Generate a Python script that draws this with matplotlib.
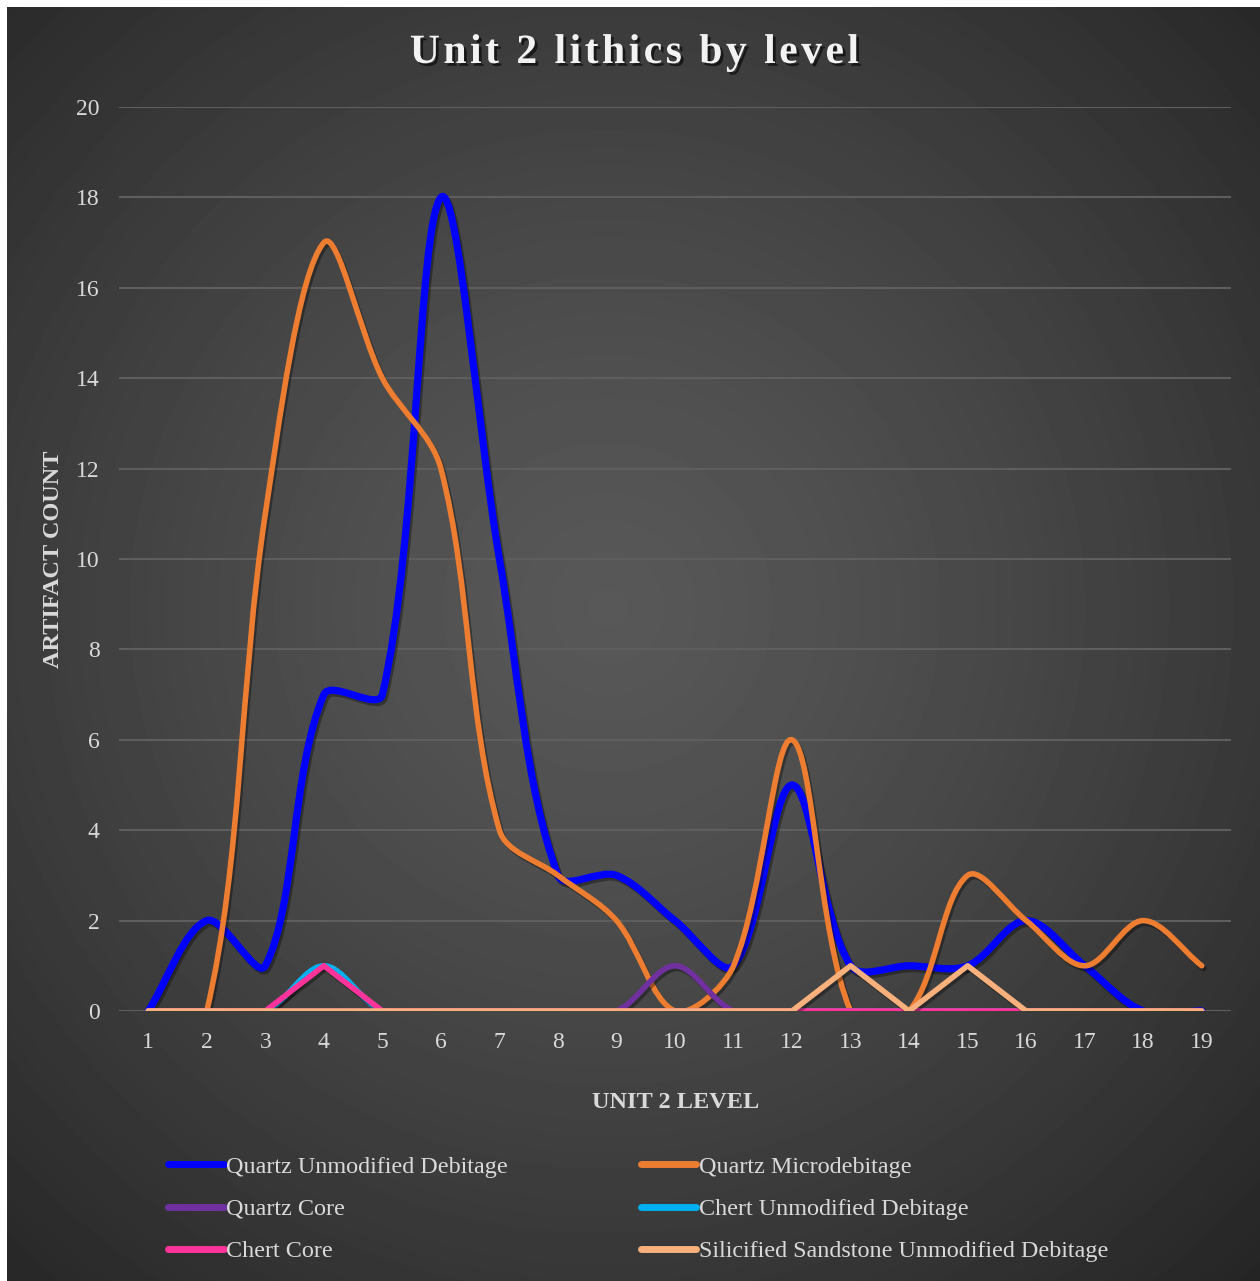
import numpy as np
import matplotlib
matplotlib.use("Agg")
import matplotlib.pyplot as plt
from matplotlib.path import Path
from matplotlib.patches import PathPatch
from matplotlib.lines import Line2D
import matplotlib.patheffects as pe

plt.rcParams['font.family'] = ['Liberation Serif', 'DejaVu Serif']

levels = [1, 2, 3, 4, 5, 6, 7, 8, 9, 10, 11, 12, 13, 14, 15, 16, 17, 18, 19]
quartz_debitage = [0, 2, 1, 7, 7, 18, 10, 3, 3, 2, 1, 5, 1, 1, 1, 2, 1, 0, 0]
quartz_micro = [0, 0, 11, 17, 14, 12, 4, 3, 2, 0, 1, 6, 0, 0, 3, 2, 1, 2, 1]
quartz_core = [0, 0, 0, 0, 0, 0, 0, 0, 0, 1, 0, 0, 0, 0, 0, 0, 0, 0, 0]
chert_debitage = [0, 0, 0, 1, 0, 0, 0, 0, 0, 0, 0, 0, 0, 0, 0, 0, 0, 0, 0]
chert_core = [0, 0, 0, 1, 0, 0, 0, 0, 0, 0, 0, 0, 0, 0, 0, 0, 0, 0, 0]
sandstone = [0, 0, 0, 0, 0, 0, 0, 0, 0, 0, 0, 0, 1, 0, 1, 0, 0, 0, 0]

series = [
    ("Quartz Unmodified Debitage", quartz_debitage, "#0000FF", 5.2, True),
    ("Quartz Microdebitage", quartz_micro, "#ED7D31", 4.0, True),
    ("Quartz Core", quartz_core, "#7030A0", 4.0, True),
    ("Chert Unmodified Debitage", chert_debitage, "#00B0F0", 4.0, True),
    ("Chert Core", chert_core, "#FF3399", 4.0, False),
    ("Silicified Sandstone Unmodified Debitage", sandstone, "#F8B07C", 4.0, False),
]

W, H = 1260, 1281
fig = plt.figure(figsize=(W / 100, H / 100), dpi=100)
fig.patch.set_facecolor("white")

# radial gradient background
bg = fig.add_axes([7 / W, 0, (W - 7) / W, (H - 7) / H], zorder=-10)
yy, xx = np.mgrid[0:1274, 0:1253]
r = np.sqrt((xx - 600) ** 2 + (yy - 600) ** 2)
v = 0x58 - (0x58 - 0x24) * np.clip(r / 950, 0, 1) ** 1.3
bg.imshow(v, cmap="gray", vmin=0, vmax=255, aspect="auto", interpolation="bilinear")
bg.axis("off")

ax = fig.add_axes([119 / W, (H - 1011) / H, 1112 / W, 904 / H])
ax.set_facecolor("none")
ax.set_xlim(0.5, 19.5)
ax.set_ylim(0, 20)

sx = 1112 / 19.0
sy = 904 / 20.0


def smooth_path(x, y):
    pts = np.column_stack([np.array(x, float) * sx, np.array(y, float) * sy])
    n = len(pts)
    verts = [pts[0]]
    codes = [Path.MOVETO]
    for i in range(n - 1):
        p0 = pts[i - 1] if i > 0 else pts[i]
        p1 = pts[i]
        p2 = pts[i + 1]
        p3 = pts[i + 2] if i + 2 < n else pts[i + 1]
        d01 = np.hypot(*(p1 - p0))
        d12 = np.hypot(*(p2 - p1))
        d23 = np.hypot(*(p3 - p2))
        c1 = p1 + (p2 - p0) * (d12 / (d01 + d12)) / 3 if d01 + d12 > 0 else p1
        c2 = p2 - (p3 - p1) * (d12 / (d12 + d23)) / 3 if d12 + d23 > 0 else p2
        verts += [c1, c2, p2]
        codes += [Path.CURVE4] * 3
    verts = np.array(verts) / [sx, sy]
    return Path(verts, codes)


shadow = [pe.SimpleLineShadow(offset=(1.5, -2), shadow_color="black", alpha=0.35), pe.Normal()]

ax.grid(axis="y", color="#5e5e5e", linewidth=1.5, zorder=0)
ax.set_axisbelow(True)

handles = []
for i, (name, vals, color, lw, smooth) in enumerate(series):
    if smooth:
        patch = PathPatch(smooth_path(levels, vals), fill=False, edgecolor=color, linewidth=lw,
                          capstyle="round", joinstyle="round", zorder=3 + i, path_effects=shadow)
        ax.add_patch(patch)
    else:
        ax.plot(levels, vals, color=color, linewidth=lw, solid_capstyle="round",
                solid_joinstyle="round", zorder=3 + i, path_effects=shadow)
    handles.append(Line2D([0], [0], color=color, linewidth=5, solid_capstyle="round"))

ax.set_xticks(levels)
ax.set_yticks(range(0, 21, 2))
ax.tick_params(axis="both", length=0, labelsize=17, labelcolor="#d9d9d9")
ax.tick_params(axis="x", pad=15)
ax.tick_params(axis="y", pad=14)
for s in ax.spines.values():
    s.set_visible(False)

ax.set_ylabel("ARTIFACT COUNT", fontsize=17.5, fontweight="bold", color="#d9d9d9")
ax.yaxis.set_label_coords(-0.0495, 0.5)
ax.set_xlabel("UNIT 2 LEVEL", fontsize=17.5, fontweight="bold", color="#d9d9d9")
ax.xaxis.set_label_coords(0.501, -0.090)

title = "\u200a".join("Unit 2 lithics by level")
fig.text(634 / W, 1 - 53 / H, title,
         ha="center", va="center", fontsize=30, fontweight="bold", color="#f2f2f2",
         path_effects=[pe.SimplePatchShadow(offset=(2, -2), shadow_rgbFace="black", alpha=0.6), pe.Normal()])

# legend is filled by column, so order the entries to read row by row
order = [0, 2, 4, 1, 3, 5]
leg = fig.legend([handles[k] for k in order], [series[k][0] for k in order], ncol=2, loc="center",
                 bbox_to_anchor=(638 / W, 1 - 1209 / H), frameon=False, fontsize=17.4,
                 handlelength=2.3, handletextpad=0.1, columnspacing=5.5, labelspacing=0.85,
                 labelcolor="#d9d9d9")

fig.savefig("out.png", dpi=100)
